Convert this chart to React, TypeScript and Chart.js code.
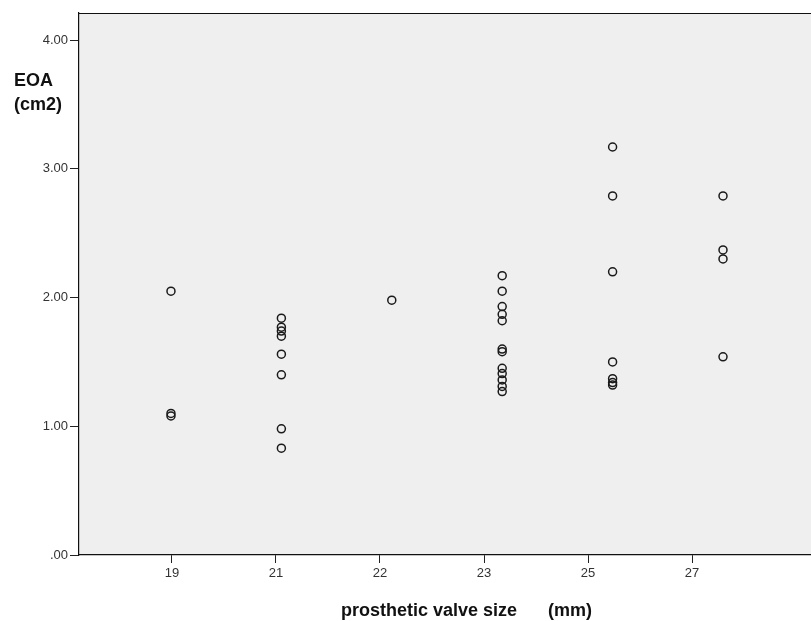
import React, { useEffect, useRef } from "react";
import { Chart, registerables } from "chart.js";

Chart.register(...registerables);

// Prosthetic valve size categories (mm)
const sizeLabels = ["19", "21", "22", "23", "25", "27"];

// EOA (cm2) observations per valve size
const eoa19 = [2.05, 1.1, 1.08];
const eoa21 = [1.84, 1.77, 1.74, 1.7, 1.56, 1.4, 0.98, 0.83];
const eoa22 = [1.98];
const eoa23 = [2.17, 2.05, 1.93, 1.87, 1.82, 1.6, 1.58, 1.45, 1.41, 1.36, 1.31, 1.27];
const eoa25 = [3.17, 2.79, 2.2, 1.5, 1.37, 1.34, 1.32];
const eoa27 = [2.79, 2.37, 2.3, 1.54];

const yTickValues = [0, 1, 2, 3, 4];

const groups = [eoa19, eoa21, eoa22, eoa23, eoa25, eoa27];

export default function App() {
  const ref = useRef<HTMLCanvasElement | null>(null);

  useEffect(() => {
    document.body.style.margin = "0";
    const canvas = ref.current;
    if (!canvas) return;

    const points = groups.flatMap((g, i) => g.map((v) => ({ x: i, y: v })));

    const bgPlugin = {
      id: "spssFrame",
      beforeDraw(chart: any) {
        const { ctx, chartArea } = chart;
        ctx.save();
        ctx.fillStyle = "#ffffff";
        ctx.fillRect(0, 0, chart.width, chart.height);
        ctx.fillStyle = "#efefef";
        ctx.fillRect(chartArea.left, chartArea.top, chartArea.right - chartArea.left, chartArea.bottom - chartArea.top);
        ctx.restore();
      },
      afterDraw(chart: any) {
        const { ctx, chartArea } = chart;
        ctx.save();
        ctx.strokeStyle = "#111";
        ctx.lineWidth = 1.2;
        ctx.beginPath();
        ctx.moveTo(chartArea.left, chartArea.top + 0.5);
        ctx.lineTo(chartArea.right, chartArea.top + 0.5);
        ctx.stroke();

        ctx.fillStyle = "#111";
        ctx.textAlign = "left";
        ctx.textBaseline = "alphabetic";
        ctx.font = "bold 18px 'Liberation Sans', Arial, sans-serif";
        ctx.fillText("EOA", 14, 86);
        ctx.fillText("(cm2)", 14, 110);

        ctx.fillText("prosthetic valve size", 341, 616);
        ctx.fillText("(mm)", 548, 616);
        ctx.restore();
      },
    };

    const chart = new Chart(canvas, {
      type: "scatter",
      data: {
        datasets: [
          {
            data: points,
            xAxisID: "x",
            yAxisID: "y",
            pointStyle: "circle",
            pointRadius: 4,
            pointBorderWidth: 1.5,
            pointBorderColor: "#1a1a1a",
            pointBackgroundColor: "rgba(0,0,0,0)",
            showLine: false,
          },
        ],
      },
      options: {
        animation: false,
        responsive: false,
        maintainAspectRatio: false,
        layout: { autoPadding: false, padding: { top: 13, right: 0, left: 0, bottom: 0 } },
        plugins: {
          legend: { display: false },
          tooltip: { enabled: false },
          title: { display: false },
        },
        scales: {
          x: {
            type: "linear",
            display: false,
            min: -0.833,
            max: 5.797,
          },
          xLabels: {
            type: "linear",
            position: "bottom",
            min: -0.894,
            max: 6.144,
            afterBuildTicks: (scale: any) => {
              scale.ticks = sizeLabels.map((_, i) => ({ value: i }));
            },
            afterFit: (scale: any) => {
              scale.height = 66;
            },
            ticks: {
              autoSkip: false,
              maxRotation: 0,
              padding: 3,
              color: "#333",
              font: { family: "'Liberation Sans', Arial, sans-serif", size: 13 },
              callback: (v: any) => sizeLabels[Math.round(Number(v))] ?? "",
            },
            grid: {
              display: true,
              drawOnChartArea: false,
              drawTicks: true,
              tickLength: 8,
              color: "#222",
            },
            border: { display: true, color: "#111", width: 1.2 },
          },
          y: {
            type: "linear",
            min: 0,
            max: 4.211,
            afterBuildTicks: (scale: any) => {
              scale.ticks = yTickValues.map((v) => ({ value: v }));
            },
            afterFit: (scale: any) => {
              scale.width = 79;
            },
            ticks: {
              padding: 2,
              color: "#333",
              font: { family: "'Liberation Sans', Arial, sans-serif", size: 13 },
              callback: (v: any) => {
                const n = Number(v);
                return n === 0 ? ".00" : n.toFixed(2);
              },
            },
            grid: {
              display: true,
              drawOnChartArea: false,
              drawTicks: true,
              tickLength: 9,
              color: "#222",
            },
            border: { display: true, color: "#111", width: 1.2 },
          },
        },
      },
      plugins: [bgPlugin],
    });

    return () => chart.destroy();
  }, []);

  return (
    <div style={{ width: 811, height: 621 }}>
      <canvas ref={ref} width={811} height={621} style={{ display: "block" }} />
    </div>
  );
}
